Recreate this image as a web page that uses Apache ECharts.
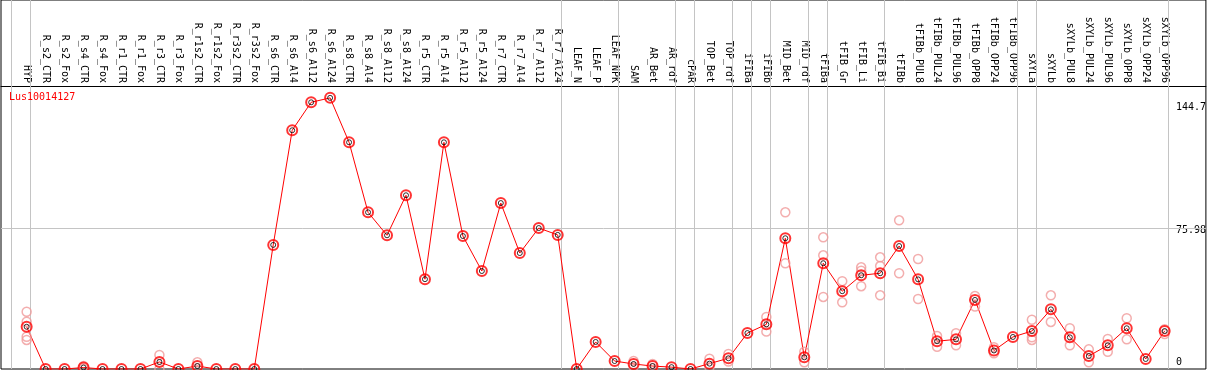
<!DOCTYPE html>
<html><head><meta charset="utf-8">
<script src="https://cdn.jsdelivr.net/npm/echarts@6/dist/echarts.min.js"></script>
<style>html,body{margin:0;padding:0;background:#fff}#c{width:1209px;height:370px}</style>
</head><body><div id="c"></div>
<script>
const chartTitle = 'Lus10014127';
const categories = ['HYP','R_s2_CTR','R_s2_Fox','R_s4_CTR','R_s4_Fox','R_r1_CTR','R_r1_Fox','R_r3_CTR','R_r3_Fox','R_r1s2_CTR','R_r1s2_Fox','R_r3s2_CTR','R_r3s2_Fox','R_s6_CTR','R_s6_Al4','R_s6_Al12','R_s6_Al24','R_s8_CTR','R_s8_Al4','R_s8_Al12','R_s8_Al24','R_r5_CTR','R_r5_Al4','R_r5_Al12','R_r5_Al24','R_r7_CTR','R_r7_Al4','R_r7_Al12','R_r7_Al24','LEAF_N','LEAF_P','LEAF_NPK','SAM','AR_Bet','AR_rdf','cPAR','TOP_Bet','TOP_rdf','iFIBa','iFIBb','MID_Bet','MID_rdf','tFIBa','tFIB_Gr','tFIB_Li','tFIB_Bi','tFIBb','tFIBb_PUL8','tFIBb_PUL24','tFIBb_PUL96','tFIBb_OPP8','tFIBb_OPP24','tFIBb_OPP96','sXYLa','sXYLb','sXYLb_PUL8','sXYLb_PUL24','sXYLb_PUL96','sXYLb_OPP8','sXYLb_OPP24','sXYLb_OPP96'];
const means = [22.8,0,0,0.8,0,0,0,3.8,0,1.6,0,0,0,67.0,128.9,144.0,146.4,122.4,84.6,72.2,93.8,48.5,122.4,71.8,52.9,89.6,62.6,76.1,72.4,0,14.6,4.3,2.7,1.6,1.0,0,2.9,5.8,19.4,24.1,70.6,6.3,57.1,42.0,50.6,51.7,66.4,48.4,15.0,16.0,37.3,10.0,17.3,20.5,32.2,17.1,7.0,12.8,22.0,5.4,20.5];
const replicates = [[30.9,25.5,17.4,15.7],[],[],[1.6,0.3],[],[],[],[7.6,0],[],[3.6,0.5],[],[],[],[],[],[],[],[],[],[],[],[],[],[],[],[],[],[],[],[],[],[],[4.3,1.2],[2.7,0.5],[],[],[5.6,0.8],[8.1,4.0],[],[28.1,20.2],[84.6,57.1],[9.3,3.6],[71.1,61.4,38.9],[47.4,36.0],[54.9,53.1,44.7],[60.3,55.6,39.8],[80.3,51.7],[59.4,37.8],[17.8,12.0],[19.3,12.8],[39.4,33.7],[11.7,8.5],[],[26.6,17.1,15.7],[39.8,25.4],[22.0,12.8],[10.6,3.6],[16.2,9.3],[27.4,16.0],[],[18.9,21.5]];
const yTickValues = [0, 75.98, 144.7];
const yGridValue = 75.98;
const groupEnds = [-1,0,28,31,34,35,37,38,39,41,42,45,52,53,60];

const mono = 'DejaVu Sans Mono';
const chart = echarts.init(document.getElementById('c'), null, {renderer:'canvas'});
const catIdx = categories.map((_, i) => i);
const meanPts = means.map((v, i) => [i, v]);
const repPts = [];
replicates.forEach((arr, i) => arr.forEach(v => repPts.push([i, v])));
const yLabelPad = {'0':[0,0,14,0], '75.98':[4,0,0,0], '144.7':[12,0,0,0]};

chart.setOption({
  animation: false,
  backgroundColor: '#fff',
  title: {text: chartTitle, left: 9, top: 92, padding: 0,
    textStyle: {color: '#ff0000', fontFamily: mono, fontSize: 10, fontWeight: 'normal'}},
  grid: {left: 1, right: 1, top: 0, bottom: 1, show: true, borderColor: '#000', borderWidth: 1, backgroundColor: 'transparent'},
  xAxis: {
    type: 'value', position: 'top', offset: -86,
    min: -1.3526, max: 62.174,
    axisLine: {show: true, onZero: false, lineStyle: {color: '#000', width: 1}},
    axisTick: {show: false},
    splitLine: {show: false},
    axisLabel: {customValues: catIdx, rotate: 90, margin: 3, color: '#000', fontFamily: mono, fontSize: 10,
      formatter: v => categories[Math.round(v)] || ''}
  },
  yAxis: {
    type: 'value', position: 'right', offset: -32,
    min: 0, max: 199.24,
    axisLine: {show: false}, axisTick: {show: false}, splitLine: {show: false},
    axisLabel: {customValues: yTickValues, margin: 2, color: '#000', fontFamily: mono, fontSize: 10,
      formatter: v => '{t' + yTickValues.indexOf(v) + '|' + String(v) + '}',
      rich: {
        t0: {padding: yLabelPad['0'], fontFamily: mono, fontSize: 10, color: '#000'},
        t1: {padding: yLabelPad['75.98'], fontFamily: mono, fontSize: 10, color: '#000'},
        t2: {padding: yLabelPad['144.7'], fontFamily: mono, fontSize: 10, color: '#000'}
      }}
  },
  series: [
    {type: 'line', data: meanPts, z: 2, symbol: 'none', lineStyle: {color: '#ff0000', width: 1}, silent: true,
      markLine: {silent: true, symbol: 'none', label: {show: false}, z: 1,
        lineStyle: {color: '#c4c4c4', width: 1, type: 'solid'},
        data: groupEnds.map(g => ({xAxis: g + 0.21})).concat([{yAxis: yGridValue}])}},
    {type: 'scatter', data: repPts, z: 3, symbol: 'circle', symbolSize: 9, silent: true,
      itemStyle: {color: 'rgba(0,0,0,0)', borderColor: '#f09a9a', borderWidth: 1.5}},
    {type: 'scatter', data: meanPts, z: 4, symbol: 'circle', symbolSize: 10, silent: true,
      itemStyle: {color: 'rgba(0,0,0,0)', borderColor: '#ff0000', borderWidth: 2}},
    {type: 'scatter', data: meanPts, z: 5, symbol: 'circle', symbolSize: 5, silent: true,
      itemStyle: {color: 'rgba(0,0,0,0)', borderColor: '#000', borderWidth: 1}}
  ]
});
</script></body></html>
